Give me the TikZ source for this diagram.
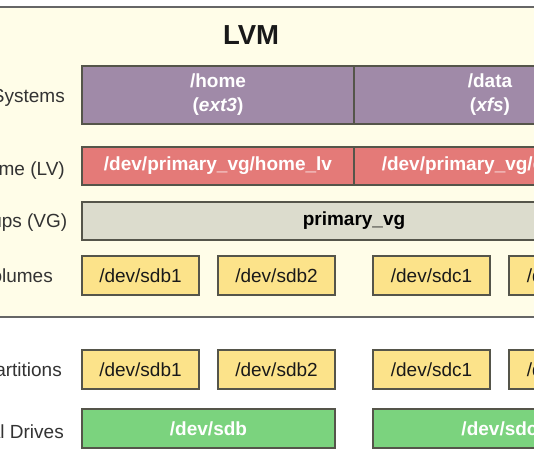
\documentclass[tikz,border=0pt]{standalone}
\usepackage{fontspec}
\setmainfont{Liberation Sans}
\definecolor{bgyel}{HTML}{FFFDE8}
\definecolor{fspurple}{HTML}{A08AA8}
\definecolor{lvred}{HTML}{E47A78}
\definecolor{vggrey}{HTML}{DCDCCD}
\definecolor{pvyel}{HTML}{FCE38A}
\definecolor{drgreen}{HTML}{7BD37E}
\definecolor{edge}{HTML}{55554A}
\definecolor{labtxt}{HTML}{333333}
\tikzset{
  x=1pt, y=-1pt,
  box/.style={draw=edge, line width=1.1pt, inner sep=0pt, align=center,
    font=\fontsize{19}{24}\selectfont},
  fsbox/.style={box, fill=fspurple, text=white, font=\fontsize{19}{24}\selectfont\bfseries,
    minimum width=272pt, minimum height=58pt},
  lvbox/.style={box, fill=lvred, text=white, font=\fontsize{19}{24}\selectfont\bfseries,
    minimum width=272pt, minimum height=38pt},
  vgbox/.style={box, fill=vggrey, text=black, font=\fontsize{19}{24}\selectfont\bfseries,
    minimum width=544pt, minimum height=38pt},
  pvbox/.style={box, fill=pvyel, text=black!90, minimum width=117pt, minimum height=39pt},
  drbox/.style={box, fill=drgreen, text=white, font=\fontsize{19}{24}\selectfont\bfseries,
    minimum width=253pt, minimum height=39pt},
  rowlab/.style={anchor=base east, inner sep=0pt, text=labtxt, font=\fontsize{19}{24}\selectfont},
}
\begin{document}
\begin{tikzpicture}
\useasboundingbox (0,0) rectangle (534,462);
\clip (0,0) rectangle (534,462);
\fill[white] (0,0) rectangle (534,462);
% LVM container
\draw[fill=bgyel, draw=black!60, line width=1.3pt] (-20,7) rectangle (660,317);
\node[font=\fontsize{27.5}{30}\selectfont\bfseries, text=black!90] (title) at (251,35) {LVM};
% row labels (base east, baseline = centre + ~6.8)
\node[rowlab] (lfs) at (65,102.8) {File Systems};
\node[rowlab] (llv) at (65,175.5) {Logical Volume (LV)};
\node[rowlab] (lvg) at (67.5,227) {Volume Groups (VG)};
\node[rowlab] (lpv) at (53,282) {Physical Volumes};
\node[rowlab] (lpt) at (62,376) {Partitions};
\node[rowlab] (ldr) at (64,438.5) {Physical Drives};
% file systems
\node[fsbox] (fshome) at (218,95) {/home\\(\textit{ext3})};
\node[fsbox] (fsdata) at (490,95) {/data\\(\textit{xfs})};
% logical volumes
\node[lvbox] (lvhome) at (218,166) {/dev/primary\_vg/home\_lv};
\node[lvbox] (lvdata) at (490,166) {/dev/primary\_vg/data\_lv};
% volume group
\node[vgbox] (vg) at (354,221) {primary\_vg};
% physical volumes
\node[pvbox] (pv1) at (140.5,275.5) {/dev/sdb1};
\node[pvbox] (pv2) at (276.5,275.5) {/dev/sdb2};
\node[pvbox] (pv3) at (431.5,275.5) {/dev/sdc1};
\node[pvbox] (pv4) at (567.5,275.5) {/dev/sdc2};
% partitions
\node[pvbox] (pt1) at (140.5,369.5) {/dev/sdb1};
\node[pvbox] (pt2) at (276.5,369.5) {/dev/sdb2};
\node[pvbox] (pt3) at (431.5,369.5) {/dev/sdc1};
\node[pvbox] (pt4) at (567.5,369.5) {/dev/sdc2};
% drives
\node[drbox] (sdb) at (208.5,428.5) {/dev/sdb};
\node[drbox] (sdc) at (499.5,428.5) {/dev/sdc};
\end{tikzpicture}
\end{document}
